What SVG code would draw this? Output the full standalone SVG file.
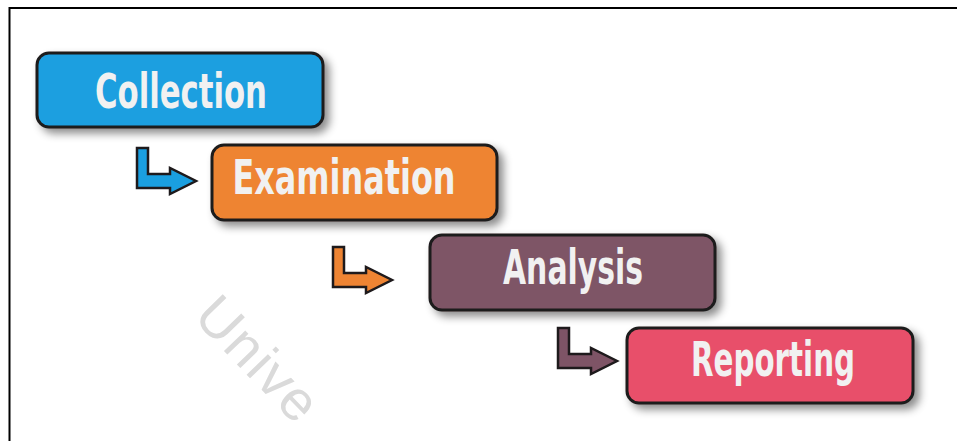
<svg xmlns="http://www.w3.org/2000/svg" width="957" height="441" viewBox="0 0 957 441">
  <defs>
    <filter id="shadow" x="-10%" y="-20%" width="130%" height="160%">
      <feDropShadow dx="5" dy="5" stdDeviation="4" flood-color="#000" flood-opacity="0.45"/>
    </filter>
    <path id="bend" d="M0,0 L11,0 L11,26 L33,26 L33,20 L59,33 L33,46 L33,40 L0,40 Z"/>
  </defs>
  <style>
    .box { stroke: #1e1a1c; stroke-width: 3; filter: url(#shadow); }
    .lbl { font-family: "DejaVu Sans Condensed", "DejaVu Sans", "Liberation Sans", sans-serif; font-weight: bold; font-size: 48px; fill: #f1f1f1; text-anchor: middle; }
    .arr { stroke: #1e1a1c; stroke-width: 2.5; stroke-linejoin: miter; }
    .wm { font-family: "Liberation Sans", Arial, sans-serif; font-size: 56px; fill: #dadada; }
  </style>
  <rect x="0" y="0" width="957" height="441" fill="#ffffff"/>
  <path d="M9.5,441 L9.5,8 L957,8" fill="none" stroke="#000" stroke-width="2"/>
  <text class="wm" transform="translate(192,318) rotate(46)" textLength="150" lengthAdjust="spacing">Unive</text>

  <g id="connectors">
    <use href="#bend" class="arr" fill="#1a9fe0" transform="translate(137,148)"/>
    <use href="#bend" class="arr" fill="#ee8433" transform="translate(333,247)"/>
    <use href="#bend" class="arr" fill="#7e5466" transform="translate(558,328)"/>
  </g>

  <g id="collection">
    <rect class="box" x="37" y="53" width="286" height="74" rx="12" fill="#1a9fe0"/>
    <text class="lbl" x="181" y="108" textLength="172" lengthAdjust="spacingAndGlyphs">Collection</text>
  </g>
  <g id="examination">
    <rect class="box" x="212" y="145" width="285" height="75" rx="12" fill="#ee8433"/>
    <text class="lbl" x="344" y="194" textLength="223" lengthAdjust="spacingAndGlyphs">Examination</text>
  </g>
  <g id="analysis">
    <rect class="box" x="430" y="235" width="285" height="75" rx="12" fill="#7e5466"/>
    <text class="lbl" x="573" y="284" textLength="140" lengthAdjust="spacingAndGlyphs">Analysis</text>
  </g>
  <g id="reporting">
    <rect class="box" x="627" y="328" width="286" height="75" rx="12" fill="#e8506a"/>
    <text class="lbl" x="773" y="376" textLength="164" lengthAdjust="spacingAndGlyphs">Reporting</text>
  </g>
</svg>
